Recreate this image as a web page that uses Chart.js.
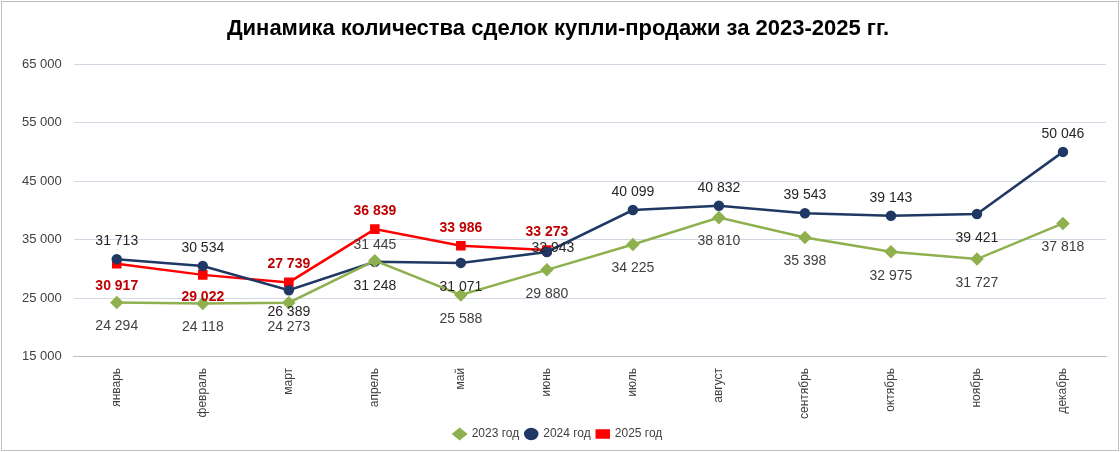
<!DOCTYPE html>
<html><head><meta charset="utf-8">
<script src="https://cdn.jsdelivr.net/npm/chart.js@4"></script>
<style>
body{margin:0;background:#fff}
#wrap{position:absolute;left:1px;top:1px;width:1116px;height:448px;border:1px solid #bfbfbf}
</style></head><body>
<div id="wrap"><canvas id="c"></canvas></div>
<script>
const months = ['январь','февраль','март','апрель','май','июнь','июль','август','сентябрь','октябрь','ноябрь','декабрь'];
const y2023 = [24294,24118,24273,31445,25588,29880,34225,38810,35398,32975,31727,37818];
const y2024 = [31713,30534,26389,31248,31071,32943,40099,40832,39543,39143,39421,50046];
const y2025 = [30917,29022,27739,36839,33986,33273];

// label offsets in px (dx, dy) per point
const off2023 = [[0,24],[0,24],[0,24],[0,-16],[0,24],[0,24],[0,24],[0,24],[0,24],[0,24],[0,24],[0,24]];
const off2024 = [[0,-18],[0,-18],[0,22],[0,24],[0,24],[6,-4],[0,-18],[0,-18],[0,-18],[0,-18],[0,24],[0,-18]];
const off2025 = [[0,22],[0,22],[0,-18],[0,-18],[0,-18],[0,-18]];

const fmt = v => String(v).replace(/\B(?=(\d{3})+(?!\d))/g,' ');

const labelPlugin = {
  id: 'labels',
  afterDatasetsDraw(chart) {
    const ctx = chart.ctx;
    const sets = [[0,off2023,'#404040','14px "Liberation Sans"'],[1,off2024,'#262626','14px "Liberation Sans"'],[2,off2025,'#c00000','bold 14px "Liberation Sans"']];
    ctx.save();
    ctx.textAlign = 'center';
    ctx.textBaseline = 'middle';
    sets.forEach(([i, offs, col, font]) => {
      const meta = chart.getDatasetMeta(i);
      ctx.fillStyle = col; ctx.font = font;
      meta.data.forEach((pt, j) => {
        const o = offs[j];
        ctx.fillText(fmt(chart.data.datasets[i].data[j]), pt.x + o[0], pt.y + o[1]);
      });
    });
    ctx.restore();
  }
};

new Chart(document.getElementById('c'), {
  type: 'line',
  data: {
    labels: months,
    datasets: [
      {label:'2023 год', data:y2023, borderColor:'#8fb04e', backgroundColor:'#8fb04e', borderWidth:2.5, pointStyle:'rectRot', pointRadius:5},
      {label:'2024 год', data:y2024, borderColor:'#1f3864', backgroundColor:'#1f3864', borderWidth:2.5, pointStyle:'circle', pointRadius:4},
      {label:'2025 год', data:y2025, borderColor:'#ff0000', backgroundColor:'#ff0000', borderWidth:2.5, pointStyle:'rect', pointRadius:5}
    ]
  },
  options: {
    responsive: true, maintainAspectRatio: false, animation: false,
    layout: {padding: {left: 8, right: 12, top: 0, bottom: 0}},
    plugins: {
      title: {display: true, text: 'Динамика количества сделок купли-продажи за 2023-2025 гг.', color: '#000',
        font: {family: '"Liberation Sans"', size: 22, weight: 'bold'}, padding: {top: 14, bottom: 22}},
      legend: {position: 'bottom', labels: {usePointStyle: true, color: '#404040', boxHeight: 7, pointStyleWidth: 12,
        font: {family: '"Liberation Sans"', size: 12}, padding: 6}},
      tooltip: {enabled: false}
    },
    scales: {
      y: {min: 15000, max: 65000, ticks: {stepSize: 10000, color: '#404040', callback: v => fmt(v),
          font: {family: '"Liberation Sans"', size: 13}, padding: 12},
        grid: {color: '#d0d8e4', drawTicks: false}, border: {display: false}},
      x: {offset: true, ticks: {maxRotation: 90, minRotation: 90, color: '#404040', font: {family: '"Liberation Sans"', size: 12}},
        grid: {display: false, offset: true}, border: {color: '#bfbfbf'}}
    }
  },
  plugins: [labelPlugin]
});
</script></body></html>
